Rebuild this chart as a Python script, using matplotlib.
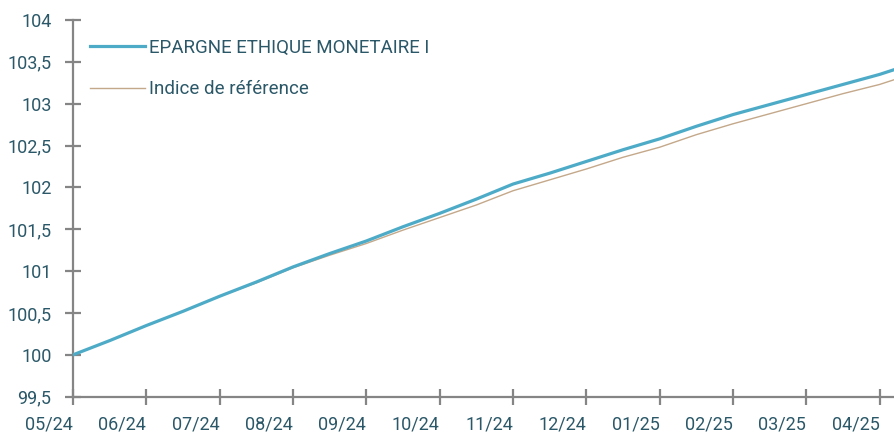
import matplotlib
matplotlib.use("Agg")
import matplotlib.pyplot as plt

# month index positions (0 = 05/24), semi-monthly readings
months = [0, 0.5, 1, 1.5, 2, 2.5, 3, 3.5, 4, 4.5, 5, 5.5, 6, 6.5, 7, 7.5,
          8, 8.5, 9, 9.5, 10, 10.5, 11, 11.21]
fund = [100.00, 100.17, 100.35, 100.52, 100.70, 100.87, 101.05, 101.21,
        101.36, 101.53, 101.69, 101.86, 102.04, 102.17, 102.31, 102.45,
        102.58, 102.73, 102.87, 102.99, 103.11, 103.23, 103.35, 103.41]
bench = [100.00, 100.17, 100.35, 100.52, 100.70, 100.86, 101.04, 101.19,
         101.33, 101.49, 101.64, 101.79, 101.96, 102.09, 102.22, 102.36,
         102.48, 102.63, 102.76, 102.88, 103.00, 103.12, 103.23, 103.29]
tick_labels = ["05/24", "06/24", "07/24", "08/24", "09/24", "10/24", "11/24",
               "12/24", "01/25", "02/25", "03/25", "04/25"]
y_ticks = [99.5, 100, 100.5, 101, 101.5, 102, 102.5, 103, 103.5, 104]
series_names = ["EPARGNE ETHIQUE MONETAIRE I", "Indice de référence"]

FONT = ["Roboto", "DejaVu Sans"]
TXT = "#2b5868"
AX = "#858585"

fig = plt.figure(figsize=(8.95, 4.37), dpi=100)
ax = fig.add_axes([73 / 895, 1 - 396.7 / 437, 1 - 73 / 895, (396.7 - 20) / 437])

ax.plot(months, fund, color="#4eabc7", lw=2.3, solid_joinstyle="round", zorder=3,
        label=series_names[0])
ax.plot(months, bench, color="#c4a88a", lw=1.0, zorder=2, label=series_names[1])

ax.set_xlim(0, 11.21)
ax.set_ylim(99.5, 104)
ax.set_yticks(y_ticks)
ax.set_yticklabels([("%g" % v).replace(".", ",") for v in y_ticks])
ax.set_xticks(range(len(tick_labels)))
ax.set_xticklabels(tick_labels, ha="right")

for s in ["top", "right"]:
    ax.spines[s].set_visible(False)
for s in ["left", "bottom"]:
    ax.spines[s].set_color(AX)
    ax.spines[s].set_linewidth(1.6)
    ax.spines[s].set_zorder(1)

ax.tick_params(axis="both", direction="inout", length=11, width=1.6, color=AX,
               labelcolor=TXT, labelsize=13)
ax.tick_params(axis="y", pad=10)
ax.tick_params(axis="x", pad=8)
for lab in ax.get_xticklabels() + ax.get_yticklabels():
    lab.set_family(FONT)

leg = ax.legend(loc="upper left", bbox_to_anchor=(0.012, 0.97), frameon=False,
                prop={"family": FONT, "size": 13.5}, handlelength=2.9,
                handletextpad=0.25, labelspacing=1.25, borderaxespad=0.0)
for t in leg.get_texts():
    t.set_color(TXT)

fig.savefig("out.png", dpi=100)
